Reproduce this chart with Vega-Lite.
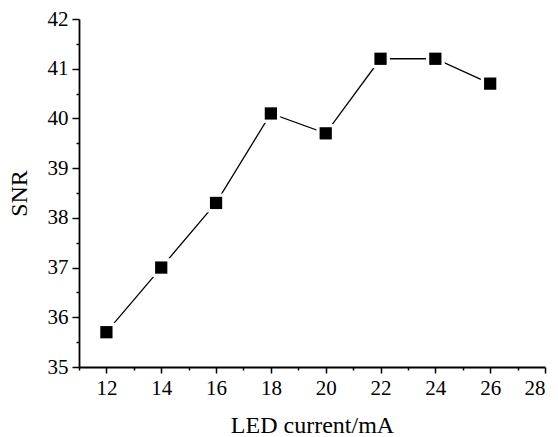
{
  "$schema": "https://vega.github.io/schema/vega-lite/v6.json",
  "width": 466,
  "height": 348,
  "padding": {"left": 79, "top": 19, "right": 13, "bottom": 70},
  "autosize": "none",
  "background": "white",
  "config": {
    "view": {"stroke": null},
    "axis": {
      "domainColor": "black",
      "domainWidth": 1.8,
      "tickColor": "black",
      "tickWidth": 1.5,
      "grid": false,
      "labelFont": "Liberation Serif",
      "labelFontSize": 21,
      "labelColor": "black",
      "titleFont": "Liberation Serif",
      "titleFontSize": 24,
      "titleFontWeight": "normal",
      "titleColor": "black"
    }
  },
  "data": {
    "values": [
      {"current": 12, "snr": 35.7},
      {"current": 14, "snr": 37.0},
      {"current": 16, "snr": 38.3},
      {"current": 18, "snr": 40.1},
      {"current": 20, "snr": 39.7},
      {"current": 22, "snr": 41.2},
      {"current": 24, "snr": 41.2},
      {"current": 26, "snr": 40.7}
    ]
  },
  "encoding": {
    "x": {
      "field": "current",
      "type": "quantitative",
      "scale": {"domain": [11, 28], "nice": false, "zero": false},
      "axis": {
        "title": "LED current/mA",
        "values": [11, 12, 13, 14, 15, 16, 17, 18, 19, 20, 21, 22, 23, 24, 25, 26, 27, 28],
        "labelExpr": "datum.value % 2 == 0 ? format(datum.value, 'd') : ''",
        "tickSize": {"condition": {"test": "datum.value % 2 == 1", "value": 3}, "value": 6},
        "labelPadding": 4,
        "titlePadding": 15
      }
    },
    "y": {
      "field": "snr",
      "type": "quantitative",
      "scale": {"domain": [35, 42], "nice": false, "zero": false},
      "axis": {
        "title": "SNR",
        "values": [35, 35.5, 36, 36.5, 37, 37.5, 38, 38.5, 39, 39.5, 40, 40.5, 41, 41.5, 42],
        "labelExpr": "datum.value % 1 == 0 ? format(datum.value, 'd') : ''",
        "tickSize": {"condition": {"test": "datum.value % 1 != 0", "value": 3}, "value": 7},
        "labelPadding": 4,
        "titlePadding": 16
      }
    }
  },
  "layer": [
    {"mark": {"type": "line", "color": "black", "strokeWidth": 1.3}},
    {"mark": {"type": "point", "shape": "square", "filled": true, "color": "white", "opacity": 1, "size": 350}},
    {"mark": {"type": "point", "shape": "square", "filled": true, "color": "black", "opacity": 1, "size": 150}}
  ]
}
